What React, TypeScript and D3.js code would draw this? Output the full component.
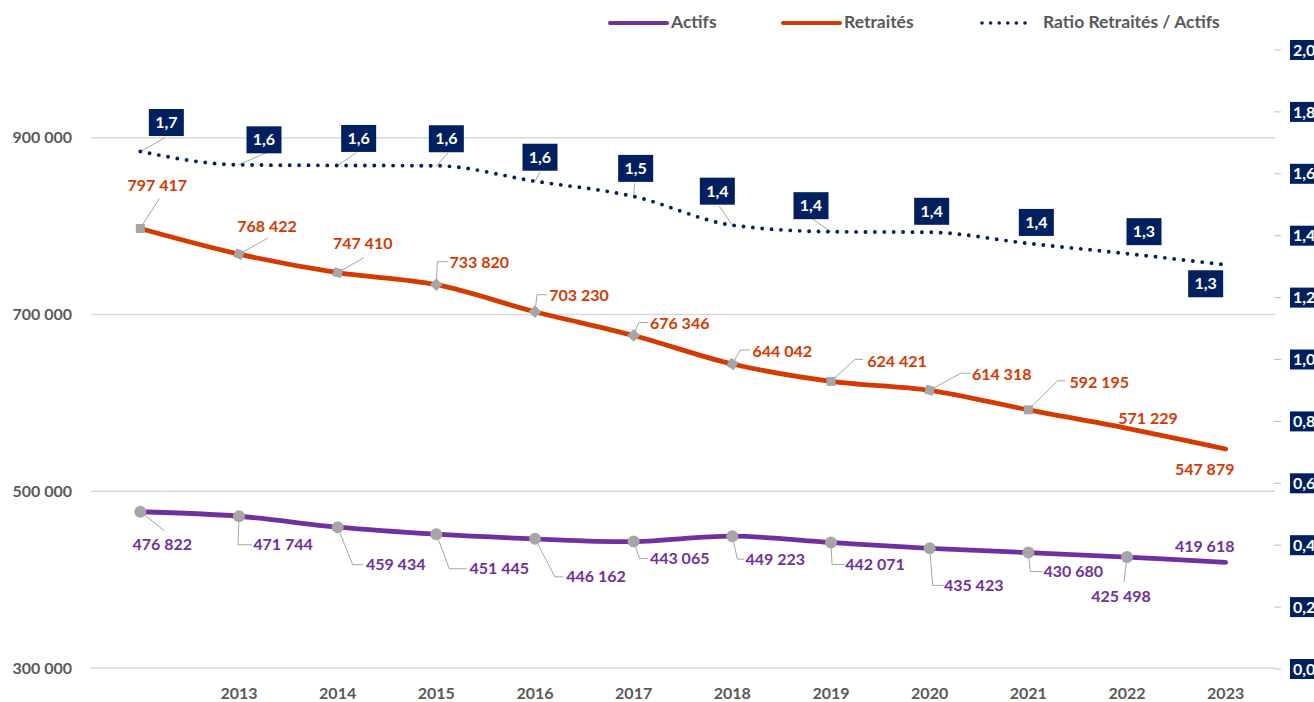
import React from "react";
import * as d3 from "d3";

// ---------- DATA ----------
const years = ["", "2013", "2014", "2015", "2016", "2017", "2018", "2019", "2020", "2021", "2022", "2023"];
const actifs = [476822, 471744, 459434, 451445, 446162, 443065, 449223, 442071, 435423, 430680, 425498, 419618];
const retraites = [797417, 768422, 747410, 733820, 703230, 676346, 644042, 624421, 614318, 592195, 571229, 547879];
const ratio = [1.672, 1.629, 1.627, 1.626, 1.576, 1.527, 1.434, 1.413, 1.411, 1.375, 1.342, 1.306];
const leftTicks = [300000, 500000, 700000, 900000];
const rightTicks = [0, 0.2, 0.4, 0.6, 0.8, 1.0, 1.2, 1.4, 1.6, 1.8, 2.0];
const seriesNames = ["Actifs", "Retraités", "Ratio Retraités / Actifs"];

// ---------- LAYOUT (label offsets relative to each point) ----------
type Lab = { dx: number; dy: number; leader: number[][] | null };
const retLabels: Lab[] = [
  { dx: 17, dy: -43, leader: [[19, -30]] },
  { dx: 28, dy: -28, leader: [[29, -16]] },
  { dx: 25, dy: -29, leader: [[26, -15]] },
  { dx: 43, dy: -22, leader: [[1, -23], [12, -23]] },
  { dx: 44, dy: -16, leader: [[2, -17], [12, -17]] },
  { dx: 46, dy: -12, leader: [[5, -13], [14, -13]] },
  { dx: 50, dy: -13, leader: [[8, -14], [18, -14]] },
  { dx: 66, dy: -20, leader: [[24, -22], [32, -22]] },
  { dx: 72, dy: -16, leader: [[31, -17], [41, -17]] },
  { dx: 71, dy: -27, leader: [[29, -29], [37, -29]] },
  { dx: 21, dy: -10, leader: null },
  { dx: -21, dy: 20, leader: null },
];
const actLabels: Lab[] = [
  { dx: 22, dy: 33, leader: [[24, 19]] },
  { dx: 44, dy: 28.5, leader: [[-1, 28.5], [13, 28.5]] },
  { dx: 58, dy: 37.6, leader: [[15, 37.6], [25, 37.6]] },
  { dx: 63, dy: 34.6, leader: [[13, 34.6], [30, 34.6]] },
  { dx: 61, dy: 38, leader: [[20, 38], [28, 38]] },
  { dx: 46, dy: 17, leader: [[6, 17], [14, 17]] },
  { dx: 43, dy: 23, leader: [[5, 23], [12, 23]] },
  { dx: 44, dy: 22, leader: [[1, 22], [13, 22]] },
  { dx: 44, dy: 37, leader: [[3, 37], [14, 37]] },
  { dx: 45, dy: 19, leader: [[2, 19], [14, 19]] },
  { dx: -6, dy: 39, leader: [[-3, 25]] },
  { dx: -21, dy: -16, leader: null },
];
const ratioLabels: Lab[] = [
  { dx: 26, dy: -29, leader: [[25, -14]] },
  { dx: 25, dy: -25, leader: [[27, -12]] },
  { dx: 21, dy: -27, leader: [[19, -13]] },
  { dx: 10, dy: -27, leader: [[12, -13]] },
  { dx: 5, dy: -24, leader: [[5, -9]] },
  { dx: 2, dy: -28, leader: [[1, -13]] },
  { dx: -15, dy: -34, leader: [[-13, -19]] },
  { dx: -20, dy: -26, leader: [[-19, -13]] },
  { dx: 2, dy: -21, leader: null },
  { dx: 8, dy: -21, leader: null },
  { dx: 17, dy: -22, leader: null },
  { dx: -20, dy: 19, leader: null },
];
const actMarker = [true, true, true, true, true, true, true, true, true, true, true, false];
const retMarkerRot = [0, 20, 15, 45, 45, 45, 30, 0, 15, 0, null, null];

const COL_ACT = "#7030A0";
const COL_RET = "#D43A02";
const COL_RAT = "#002060";
const GREY_TXT = "#595959";
const MARK = "#A6A6A6";
const FONT = "Lato, 'Open Sans', sans-serif";

const W = 1314, H = 702;
const PL = 91, PR = 1275;

const loc = d3.formatLocale({ decimal: ",", thousands: " ", grouping: [3], currency: ["", ""] });
const fmtInt = loc.format(",d");
const fmtDec = loc.format(".1f");

export default function App() {
  const idx = years.map((_, i) => i);
  const x = d3.scaleBand<number>().domain(idx).range([PL, PR]);
  const cx = (i: number) => (x(i) as number) + x.bandwidth() / 2;
  const yL = d3.scaleLinear().domain([300000, 1000000]).range([668, 49.5]);
  const yR = d3.scaleLinear().domain([0, 2]).range([669, 50]);

  const curve = d3.curveMonotoneX;
  const curveL = d3.curveCatmullRom.alpha(0);
  const lineL = d3.line<number>().x((_, i) => cx(i)).y((d) => yL(d)).curve(curveL);
  const lineR = d3.line<number>().x((_, i) => cx(i)).y((d) => yR(d)).curve(curve);

  const textStyle = { fontFamily: FONT, fontWeight: 700, fontSize: 16 } as const;
  const legStyle = { fontFamily: FONT, fontWeight: 700, fontSize: 17.5 } as const;

  const leaderPath = (px: number, py: number, l: Lab) =>
    l.leader ? "M" + px + "," + py + l.leader.map((p) => "L" + (px + p[0]) + "," + (py + p[1])).join("") : null;

  return (
    <svg width={W} height={H} style={{ position: "absolute", left: 0, top: 0, background: "#fff" }}>
      {/* gridlines */}
      {leftTicks.map((t) => (
        <line key={"g" + t} x1={PL} x2={PR} y1={yL(t)} y2={yL(t)} stroke="#D9D9D9" strokeWidth={1.5} />
      ))}
      {/* left axis labels */}
      {leftTicks.map((t) => (
        <text key={"l" + t} x={72} y={yL(t)} dy="0.35em" textAnchor="end" fill={GREY_TXT} style={textStyle}>
          {fmtInt(t)}
        </text>
      ))}
      {/* right axis */}
      {rightTicks.map((t) => (
        <g key={"r" + t}>
          <line x1={1274} x2={1281} y1={yR(t)} y2={yR(t)} stroke="#BFBFBF" strokeWidth={1} />
          <rect x={1290} y={yR(t) - 10} width={28} height={20} fill={COL_RAT} />
          <text x={1293} y={yR(t)} dy="0.35em" fill="#fff" style={textStyle}>
            {fmtDec(t)}
          </text>
        </g>
      ))}
      {/* x labels */}
      {idx.map((i) => (
        <text key={"x" + i} x={cx(i)} y={693} dy="0.35em" textAnchor="middle" fill={GREY_TXT} style={textStyle}>
          {years[i]}
        </text>
      ))}

      {/* leaders */}
      {retraites.map((v, i) => {
        const p = leaderPath(cx(i), yL(v), retLabels[i]);
        return p ? <path key={"lr" + i} d={p} fill="none" stroke={MARK} strokeWidth={1} /> : null;
      })}
      {actifs.map((v, i) => {
        const p = leaderPath(cx(i), yL(v), actLabels[i]);
        return p ? <path key={"la" + i} d={p} fill="none" stroke={MARK} strokeWidth={1} /> : null;
      })}
      {ratio.map((v, i) => {
        const p = leaderPath(cx(i), yR(v), ratioLabels[i]);
        return p ? <path key={"lq" + i} d={p} fill="none" stroke={MARK} strokeWidth={1} /> : null;
      })}

      {/* lines */}
      <path d={lineL(actifs) || ""} fill="none" stroke={COL_ACT} strokeWidth={4.8} strokeLinecap="round" />
      <path d={lineL(retraites) || ""} fill="none" stroke={COL_RET} strokeWidth={4.8} strokeLinecap="round" />
      <path
        d={lineR(ratio) || ""}
        fill="none"
        stroke={COL_RAT}
        strokeWidth={3.9}
        strokeLinecap="round"
        strokeDasharray="0 9.4"
      />

      {/* markers */}
      {actifs.map((v, i) =>
        actMarker[i] ? <circle key={"ma" + i} cx={cx(i)} cy={yL(v)} r={6} fill={MARK} /> : null
      )}
      {retraites.map((v, i) => {
        const r = retMarkerRot[i];
        if (r === null) return null;
        return (
          <rect
            key={"mr" + i}
            x={-4.5}
            y={-4.5}
            width={9}
            height={9}
            fill={MARK}
            transform={`translate(${cx(i)},${yL(v)}) rotate(${r})`}
          />
        );
      })}

      {/* data labels */}
      {retraites.map((v, i) => (
        <text
          key={"tr" + i}
          x={cx(i) + retLabels[i].dx}
          y={yL(v) + retLabels[i].dy}
          dy="0.35em"
          textAnchor="middle"
          fill={COL_RET}
          style={textStyle}
        >
          {fmtInt(v)}
        </text>
      ))}
      {actifs.map((v, i) => (
        <text
          key={"ta" + i}
          x={cx(i) + actLabels[i].dx}
          y={yL(v) + actLabels[i].dy}
          dy="0.35em"
          textAnchor="middle"
          fill={COL_ACT}
          style={textStyle}
        >
          {fmtInt(v)}
        </text>
      ))}
      {ratio.map((v, i) => {
        const lx = cx(i) + ratioLabels[i].dx;
        const ly = yR(v) + ratioLabels[i].dy;
        return (
          <g key={"tq" + i}>
            <rect x={lx - 17.5} y={ly - 13.5} width={35} height={27} fill={COL_RAT} />
            <text x={lx} y={ly} dy="0.35em" textAnchor="middle" fill="#fff" style={textStyle}>
              {fmtDec(v)}
            </text>
          </g>
        );
      })}

      {/* legend */}
      <line x1={610} x2={667} y1={23} y2={23} stroke={COL_ACT} strokeWidth={4} strokeLinecap="round" />
      <text x={671} y={22} dy="0.35em" fill={GREY_TXT} style={legStyle}>
        {seriesNames[0]}
      </text>
      <line x1={783} x2={840} y1={23} y2={23} stroke={COL_RET} strokeWidth={4} strokeLinecap="round" />
      <text x={844} y={22} dy="0.35em" fill={GREY_TXT} style={legStyle}>
        {seriesNames[1]}
      </text>
      <line
        x1={982}
        x2={1026}
        y1={23}
        y2={23}
        stroke={COL_RAT}
        strokeWidth={3.6}
        strokeLinecap="round"
        strokeDasharray="0 8.6"
      />
      <text x={1043} y={22} dy="0.35em" fill={GREY_TXT} style={legStyle}>
        {seriesNames[2]}
      </text>
    </svg>
  );
}
